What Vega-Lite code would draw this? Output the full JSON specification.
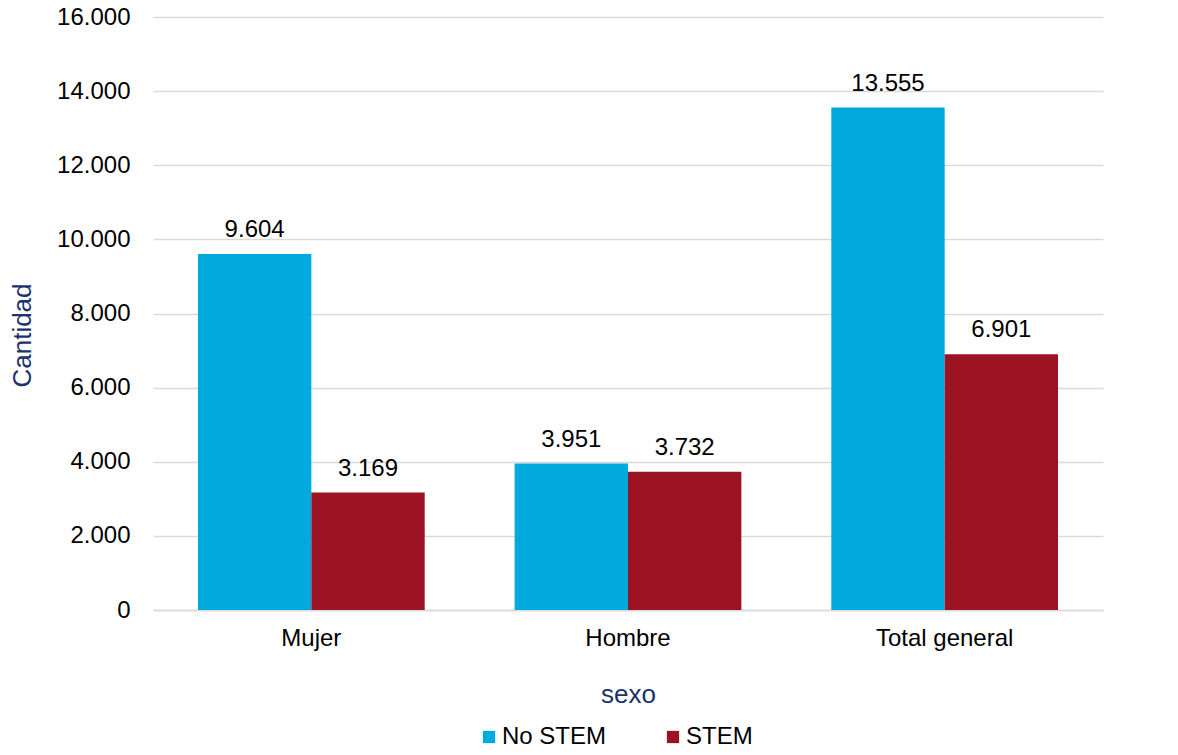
{
  "$schema": "https://vega.github.io/schema/vega-lite/v6.json",
  "width": 950,
  "height": 593,
  "padding": {"left": 9, "top": 5, "right": 73, "bottom": 5},
  "background": "white",
  "config": {
    "font": "Liberation Sans",
    "view": {"stroke": null},
    "locale": {"number": {"decimal": ",", "thousands": ".", "grouping": [3], "currency": ["", ""]}}
  },
  "data": {
    "values": [
      {"sexo": "Mujer", "tipo": "No STEM", "cantidad": 9604},
      {"sexo": "Mujer", "tipo": "STEM", "cantidad": 3169},
      {"sexo": "Hombre", "tipo": "No STEM", "cantidad": 3951},
      {"sexo": "Hombre", "tipo": "STEM", "cantidad": 3732},
      {"sexo": "Total general", "tipo": "No STEM", "cantidad": 13555},
      {"sexo": "Total general", "tipo": "STEM", "cantidad": 6901}
    ]
  },
  "encoding": {
    "x": {
      "field": "sexo",
      "type": "nominal",
      "sort": ["Mujer", "Hombre", "Total general"],
      "scale": {"paddingInner": 0.284, "paddingOuter": 0.142},
      "axis": {
        "title": "sexo",
        "titleFontSize": 26,
        "titleFontWeight": "normal",
        "titleColor": "#1B336B",
        "titlePadding": 31,
        "labelAngle": 0,
        "labelFontSize": 24,
        "labelColor": "#000000",
        "labelPadding": 16,
        "ticks": false,
        "domainColor": "#D9D9D9",
        "domainWidth": 1.5
      }
    },
    "xOffset": {"field": "tipo", "type": "nominal", "sort": ["No STEM", "STEM"]},
    "y": {
      "field": "cantidad",
      "type": "quantitative",
      "scale": {"domain": [0, 16000], "nice": false},
      "axis": {
        "title": "Cantidad",
        "titleFontSize": 26,
        "titleFontWeight": "normal",
        "titleColor": "#1B336B",
        "titlePadding": 21,
        "titleY": 318,
        "values": [0, 2000, 4000, 6000, 8000, 10000, 12000, 14000, 16000],
        "format": ",d",
        "labelFontSize": 24,
        "labelColor": "#000000",
        "labelPadding": 23,
        "ticks": false,
        "domain": false,
        "gridColor": "#D9D9D9",
        "gridWidth": 1.5
      }
    }
  },
  "layer": [
    {
      "mark": {"type": "bar"},
      "encoding": {
        "color": {
          "field": "tipo",
          "type": "nominal",
          "scale": {"domain": ["No STEM", "STEM"], "range": ["#00AADF", "#9B1222"]},
          "legend": {
            "title": null,
            "orient": "none",
            "legendX": 324,
            "legendY": 708,
            "direction": "horizontal",
            "symbolType": "square",
            "symbolSize": 150,
            "symbolStrokeWidth": 0,
            "labelFontSize": 24,
            "labelColor": "#000000",
            "columnPadding": 54,
            "labelOffset": 1
          }
        }
      }
    },
    {
      "mark": {"type": "text", "baseline": "alphabetic", "dy": -17, "fontSize": 24, "color": "#000000"},
      "encoding": {
        "text": {"field": "cantidad", "type": "quantitative", "format": ",d"}
      }
    }
  ]
}
